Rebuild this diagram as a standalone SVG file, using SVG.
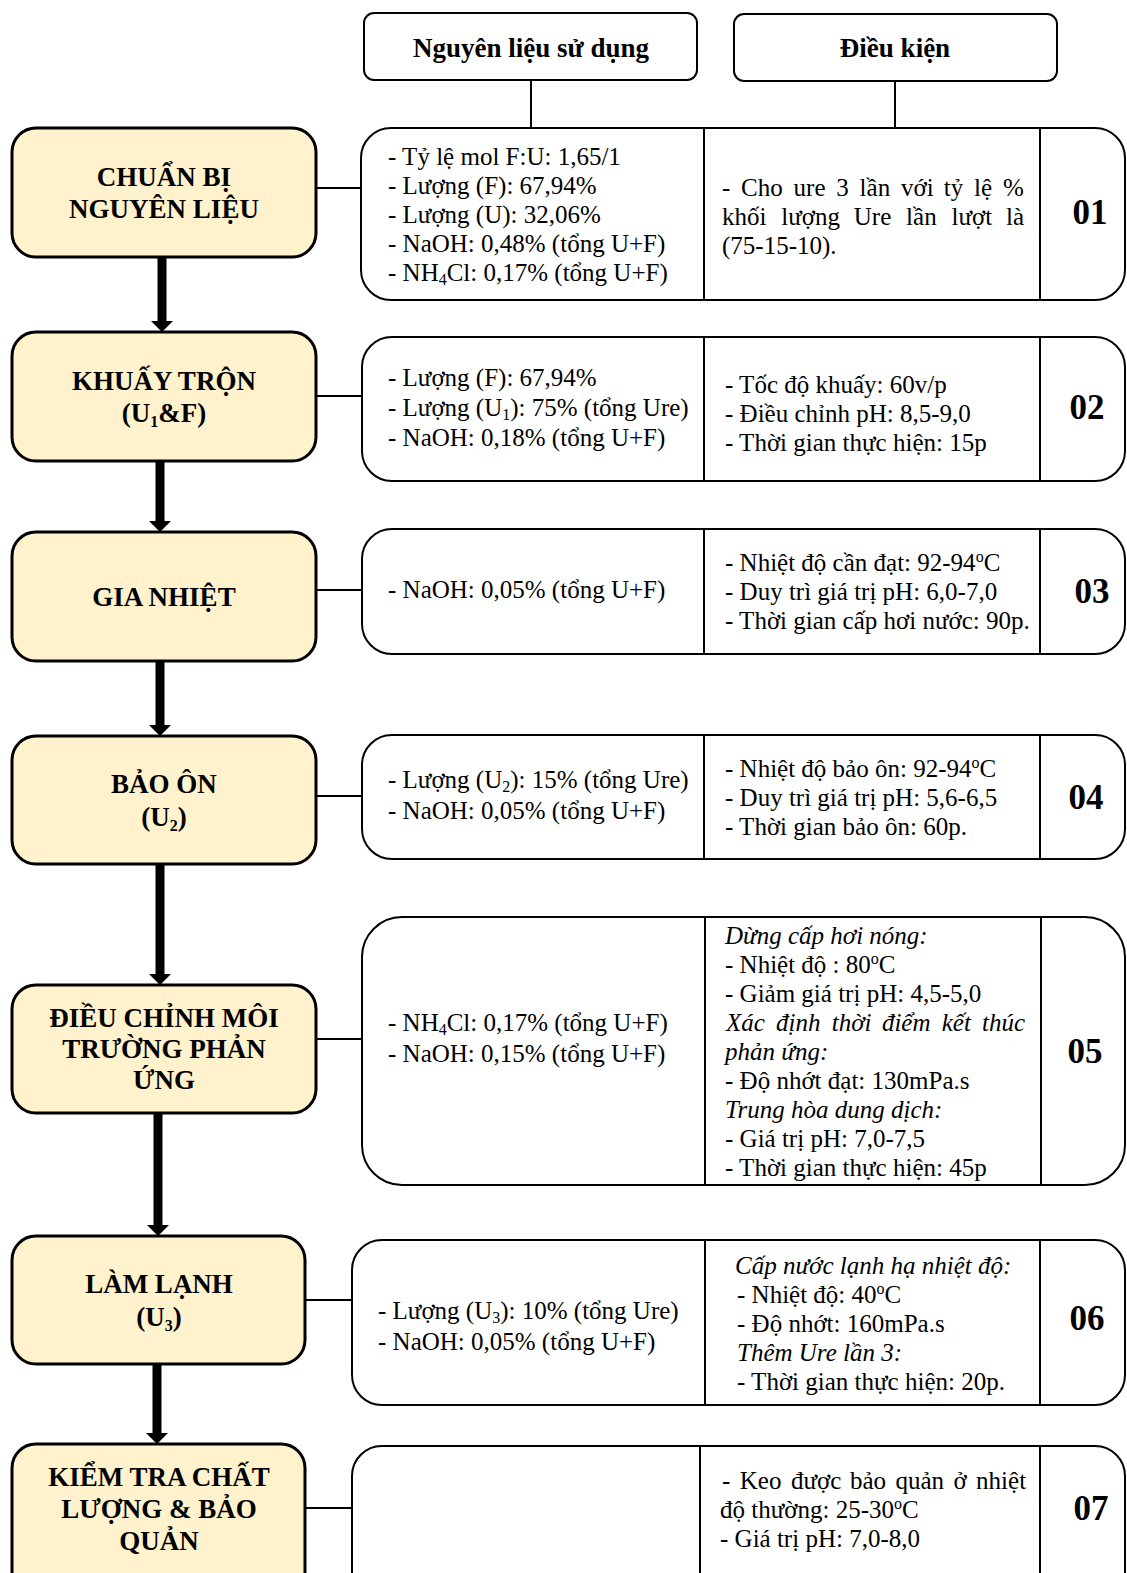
<svg xmlns="http://www.w3.org/2000/svg" width="1127" height="1573" viewBox="0 0 1127 1573">
<style>
text{font-family:"Liberation Serif","DejaVu Serif","Times New Roman",serif;fill:#000}
.t{font-size:25px}
.b{font-size:27px;font-weight:bold;text-anchor:middle}
.num{font-size:35px;font-weight:bold;text-anchor:middle}
.i{font-style:italic}
.node{fill:#FFF2CC;stroke:#000;stroke-width:3}
.hdr{fill:#fff;stroke:#000;stroke-width:2}
.row{fill:#fff;stroke:#000;stroke-width:2}
.div{stroke:#000;stroke-width:2}
.con{stroke:#000;stroke-width:2;fill:none}
.arr{stroke:#000;stroke-width:9;fill:none;marker-end:url(#ah)}
.sub{font-size:16px}
</style>
<defs>
<marker id="ah" markerUnits="userSpaceOnUse" viewBox="0 -11 11 22" refX="0" refY="0" markerWidth="11" markerHeight="22" orient="auto">
<path d="M0,-11 L11,0 L0,11 z" fill="#000"/>
</marker>
</defs>
<rect width="1127" height="1573" fill="#fff"/>

<g id="connectors">
<line class="con" x1="531" y1="80" x2="531" y2="128"/>
<line class="con" x1="895" y1="81" x2="895" y2="128"/>
<line class="con" x1="316" y1="188" x2="361" y2="188"/>
<line class="con" x1="316" y1="396" x2="362" y2="396"/>
<line class="con" x1="316" y1="590" x2="362" y2="590"/>
<line class="con" x1="316" y1="796" x2="362" y2="796"/>
<line class="con" x1="316" y1="1039" x2="362" y2="1039"/>
<line class="con" x1="305" y1="1300" x2="352" y2="1300"/>
<line class="con" x1="305" y1="1508" x2="352" y2="1508"/>
<line class="arr" x1="162" y1="257" x2="162" y2="321"/>
<line class="arr" x1="160" y1="461" x2="160" y2="521"/>
<line class="arr" x1="160" y1="661" x2="160" y2="725"/>
<line class="arr" x1="160" y1="864" x2="160" y2="974"/>
<line class="arr" x1="158" y1="1113" x2="158" y2="1225"/>
<line class="arr" x1="157" y1="1364" x2="157" y2="1433"/>
</g>

<g id="hdr-nguyen-lieu">
<rect class="hdr" x="364" y="13" width="333" height="67" rx="10"/>
<text class="b" x="531" y="57">Nguyên liệu sử dụng</text>
</g>
<g id="hdr-dieu-kien">
<rect class="hdr" x="734" y="14" width="323" height="67" rx="10"/>
<text class="b" x="895" y="57">Điều kiện</text>
</g>

<g id="node1">
<rect class="node" x="12" y="128" width="304" height="129" rx="24"/>
<text class="b" x="164" y="186">CHUẨN BỊ</text>
<text class="b" x="164" y="218">NGUYÊN LIỆU</text>
</g>
<g id="node2">
<rect class="node" x="12" y="332" width="304" height="129" rx="24"/>
<text class="b" x="164" y="390">KHUẤY TRỘN</text>
<text class="b" x="164" y="422">(U<tspan class="sub" dy="5">1</tspan><tspan dy="-5">&amp;F)</tspan></text>
</g>
<g id="node3">
<rect class="node" x="12" y="532" width="304" height="129" rx="24"/>
<text class="b" x="164" y="606">GIA NHIỆT</text>
</g>
<g id="node4">
<rect class="node" x="12" y="736" width="304" height="128" rx="24"/>
<text class="b" x="164" y="793">BẢO ÔN</text>
<text class="b" x="164" y="826">(U<tspan class="sub" dy="5">2</tspan><tspan dy="-5">)</tspan></text>
</g>
<g id="node5">
<rect class="node" x="12" y="985" width="304" height="128" rx="24"/>
<text class="b" x="164" y="1027">ĐIỀU CHỈNH MÔI</text>
<text class="b" x="164" y="1058">TRƯỜNG PHẢN</text>
<text class="b" x="164" y="1089">ỨNG</text>
</g>
<g id="node6">
<rect class="node" x="12" y="1236" width="293" height="128" rx="24"/>
<text class="b" x="159" y="1293">LÀM LẠNH</text>
<text class="b" x="159" y="1326">(U<tspan class="sub" dy="5">3</tspan><tspan dy="-5">)</tspan></text>
</g>
<g id="node7">
<rect class="node" x="12" y="1444" width="293" height="160" rx="24"/>
<text class="b" x="159" y="1486">KIỂM TRA CHẤT</text>
<text class="b" x="159" y="1518">LƯỢNG &amp; BẢO</text>
<text class="b" x="159" y="1550">QUẢN</text>
</g>

<g id="row1">
<rect class="row" x="361" y="128" width="764" height="172" rx="30"/>
<line class="div" x1="704" y1="128" x2="704" y2="300"/>
<line class="div" x1="1040" y1="128" x2="1040" y2="300"/>
<text class="t" x="388" y="165">- Tỷ lệ mol F:U: 1,65/1</text>
<text class="t" x="388" y="194">- Lượng (F): 67,94%</text>
<text class="t" x="388" y="223">- Lượng (U): 32,06%</text>
<text class="t" x="388" y="252">- NaOH: 0,48% (tổng U+F)</text>
<text class="t" x="388" y="281">- NH<tspan class="sub" dy="4">4</tspan><tspan dy="-4">Cl: 0,17% (tổng U+F)</tspan></text>
<text class="t" y="196"><tspan x="722">-</tspan><tspan x="741">Cho</tspan><tspan x="793.6">ure</tspan><tspan x="836.3">3</tspan><tspan x="859.6">lần</tspan><tspan x="901">với</tspan><tspan x="943.8">tỷ</tspan><tspan x="974.1">lệ</tspan><tspan x="1003">%</tspan></text>
<text class="t" y="225"><tspan x="722">khối</tspan><tspan x="781.3">lượng</tspan><tspan x="853.8">Ure</tspan><tspan x="906.1">lần</tspan><tspan x="951.5">lượt</tspan><tspan x="1006">là</tspan></text>
<text class="t" x="722" y="254">(75-15-10).</text>
<text class="num" x="1090" y="224">01</text>
</g>

<g id="row2">
<rect class="row" x="362" y="337" width="763" height="144" rx="30"/>
<line class="div" x1="704" y1="337" x2="704" y2="481"/>
<line class="div" x1="1040" y1="337" x2="1040" y2="481"/>
<text class="t" x="388" y="386">- Lượng (F): 67,94%</text>
<text class="t" x="388" y="416">- Lượng (U<tspan class="sub" dy="4">1</tspan><tspan dy="-4">): 75% (tổng Ure)</tspan></text>
<text class="t" x="388" y="446">- NaOH: 0,18% (tổng U+F)</text>
<text class="t" x="725" y="393">- Tốc độ khuấy: 60v/p</text>
<text class="t" x="725" y="422">- Điều chỉnh pH: 8,5-9,0</text>
<text class="t" x="725" y="451">- Thời gian thực hiện: 15p</text>
<text class="num" x="1087" y="419">02</text>
</g>

<g id="row3">
<rect class="row" x="362" y="529" width="763" height="125" rx="30"/>
<line class="div" x1="704" y1="529" x2="704" y2="654"/>
<line class="div" x1="1040" y1="529" x2="1040" y2="654"/>
<text class="t" x="388" y="598">- NaOH: 0,05% (tổng U+F)</text>
<text class="t" x="725" y="571">- Nhiệt độ cần đạt: 92-94<tspan class="sub" dy="-9">o</tspan><tspan dy="9">C</tspan></text>
<text class="t" x="725" y="600">- Duy trì giá trị pH: 6,0-7,0</text>
<text class="t" x="725" y="629">- Thời gian cấp hơi nước: 90p.</text>
<text class="num" x="1092" y="603">03</text>
</g>

<g id="row4">
<rect class="row" x="362" y="735" width="763" height="124" rx="30"/>
<line class="div" x1="704" y1="735" x2="704" y2="859"/>
<line class="div" x1="1040" y1="735" x2="1040" y2="859"/>
<text class="t" x="388" y="788">- Lượng (U<tspan class="sub" dy="4">2</tspan><tspan dy="-4">): 15% (tổng Ure)</tspan></text>
<text class="t" x="388" y="819">- NaOH: 0,05% (tổng U+F)</text>
<text class="t" x="725" y="777">- Nhiệt độ bảo ôn: 92-94<tspan class="sub" dy="-9">o</tspan><tspan dy="9">C</tspan></text>
<text class="t" x="725" y="806">- Duy trì giá trị pH: 5,6-6,5</text>
<text class="t" x="725" y="835">- Thời gian bảo ôn: 60p.</text>
<text class="num" x="1086" y="809">04</text>
</g>

<g id="row5">
<rect class="row" x="362" y="917" width="763" height="268" rx="40"/>
<line class="div" x1="705" y1="917" x2="705" y2="1185"/>
<line class="div" x1="1041" y1="917" x2="1041" y2="1185"/>
<text class="t" x="388" y="1031">- NH<tspan class="sub" dy="4">4</tspan><tspan dy="-4">Cl: 0,17% (tổng U+F)</tspan></text>
<text class="t" x="388" y="1062">- NaOH: 0,15% (tổng U+F)</text>
<text class="t i" x="725" y="944">Dừng cấp hơi nóng:</text>
<text class="t" x="725" y="973">- Nhiệt độ : 80<tspan class="sub" dy="-9">o</tspan><tspan dy="9">C</tspan></text>
<text class="t" x="725" y="1002">- Giảm giá trị pH: 4,5-5,0</text>
<text class="t i" y="1031"><tspan x="726">Xác</tspan><tspan x="776.1">định</tspan><tspan x="831.8">thời</tspan><tspan x="881.9">điểm</tspan><tspan x="941.7">kết</tspan><tspan x="982.1">thúc</tspan></text>
<text class="t i" x="725" y="1060">phản ứng:</text>
<text class="t" x="725" y="1089">- Độ nhớt đạt: 130mPa.s</text>
<text class="t i" x="725" y="1118">Trung hòa dung dịch:</text>
<text class="t" x="725" y="1147">- Giá trị pH: 7,0-7,5</text>
<text class="t" x="725" y="1176">- Thời gian thực hiện: 45p</text>
<text class="num" x="1085" y="1063">05</text>
</g>

<g id="row6">
<rect class="row" x="352" y="1240" width="773" height="165" rx="30"/>
<line class="div" x1="705" y1="1240" x2="705" y2="1405"/>
<line class="div" x1="1040" y1="1240" x2="1040" y2="1405"/>
<text class="t" x="378" y="1319">- Lượng (U<tspan class="sub" dy="4">3</tspan><tspan dy="-4">): 10% (tổng Ure)</tspan></text>
<text class="t" x="378" y="1350">- NaOH: 0,05% (tổng U+F)</text>
<text class="t i" x="735" y="1274">Cấp nước lạnh hạ nhiệt độ:</text>
<text class="t" x="737" y="1303">- Nhiệt độ: 40<tspan class="sub" dy="-9">o</tspan><tspan dy="9">C</tspan></text>
<text class="t" x="737" y="1332">- Độ nhớt: 160mPa.s</text>
<text class="t i" x="737" y="1361">Thêm Ure lần 3:</text>
<text class="t" x="737" y="1390">- Thời gian thực hiện: 20p.</text>
<text class="num" x="1087" y="1330">06</text>
</g>

<g id="row7">
<rect class="row" x="352" y="1446" width="773" height="160" rx="30"/>
<line class="div" x1="700" y1="1446" x2="700" y2="1573"/>
<line class="div" x1="1040" y1="1446" x2="1040" y2="1573"/>
<text class="t" y="1489"><tspan x="722">-</tspan><tspan x="739.8">Keo</tspan><tspan x="791">được</tspan><tspan x="849.9">bảo</tspan><tspan x="895.5">quản</tspan><tspan x="953.6">ở</tspan><tspan x="976.1">nhiệt</tspan></text>
<text class="t" x="720" y="1518">độ thường: 25-30<tspan class="sub" dy="-9">o</tspan><tspan dy="9">C</tspan></text>
<text class="t" x="720" y="1547">- Giá trị pH: 7,0-8,0</text>
<text class="num" x="1091" y="1520">07</text>
</g>
</svg>
